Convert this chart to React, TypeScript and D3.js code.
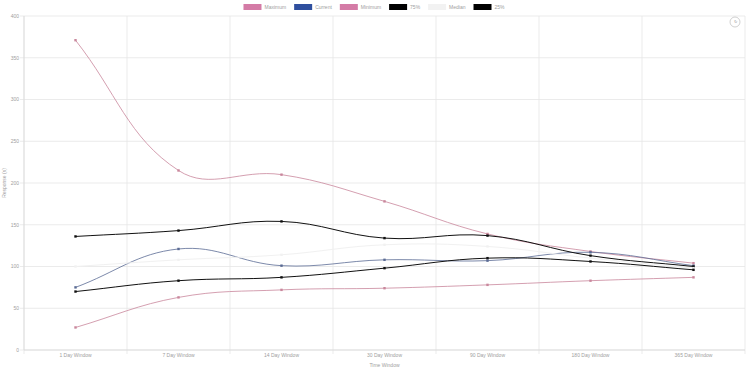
import React from 'react';
import * as d3 from 'd3';

const categories = ['1 Day Window', '7 Day Window', '14 Day Window', '30 Day Window', '90 Day Window', '180 Day Window', '365 Day Window'];
const maximum = [371, 215, 210, 178, 139, 118, 104];
const current = [75, 121, 101, 108, 107, 117, 101];
const minimum = [27, 63, 72, 74, 78, 83, 87];
const p75 = [136, 143, 154, 134, 137, 113, 100];
const median = [100, 108, 114, 126, 124, 110, 98];
const p25 = [70, 83, 87, 98, 110, 106, 96];
const yTicks = [0, 50, 100, 150, 200, 250, 300, 350, 400];

const series = [
  { name: 'Maximum', values: maximum, color: '#d47ba6', line: '#c9879c', width: 0.8 },
  { name: 'Current', values: current, color: '#2f4f9e', line: '#5a6b94', width: 0.8 },
  { name: 'Minimum', values: minimum, color: '#d47ba6', line: '#c9879c', width: 0.8 },
  { name: '75%', values: p75, color: '#000000', line: '#111111', width: 1 },
  { name: 'Median', values: median, color: '#f2f2f2', line: '#f1f1f1', width: 1 },
  { name: '25%', values: p25, color: '#000000', line: '#111111', width: 1 },
];

const W = 748;
const H = 372;
const margin = { top: 16, right: 3, bottom: 22, left: 24 };
const font = 'Liberation Sans, Arial, sans-serif';

// chart.js style bezier (tension 0.4)
function splinePath(pts: [number, number][], t = 0.4) {
  const cps = pts.map((p, i) => {
    const prev = pts[i - 1] || p;
    const next = pts[i + 1] || p;
    const d01 = Math.hypot(p[0] - prev[0], p[1] - prev[1]);
    const d12 = Math.hypot(next[0] - p[0], next[1] - p[1]);
    let s01 = d01 / (d01 + d12);
    let s12 = d12 / (d01 + d12);
    if (isNaN(s01)) s01 = 0;
    if (isNaN(s12)) s12 = 0;
    const fa = t * s01, fb = t * s12;
    return {
      prev: [p[0] - fa * (next[0] - prev[0]), p[1] - fa * (next[1] - prev[1])],
      next: [p[0] + fb * (next[0] - prev[0]), p[1] + fb * (next[1] - prev[1])],
    };
  });
  let d = `M${pts[0][0]},${pts[0][1]}`;
  for (let i = 1; i < pts.length; i++) {
    const a = cps[i - 1].next, b = cps[i].prev;
    d += `C${a[0]},${a[1]} ${b[0]},${b[1]} ${pts[i][0]},${pts[i][1]}`;
  }
  return d;
}

function textWidth(s: string, size: number) {
  const ctx = document.createElement('canvas').getContext('2d');
  if (!ctx) return s.length * size * 0.5;
  ctx.font = `${size}px ${font}`;
  return ctx.measureText(s).width;
}

const App: React.FC = () => {
  const x = d3.scaleBand<string>().domain(categories).range([margin.left, W - margin.right]);
  const y = d3.scaleLinear().domain([0, 400]).range([H - margin.bottom, margin.top]);
  const bw = x.bandwidth();
  const cx = (c: string) => (x(c) as number) + bw / 2;

  // legend layout
  const boxW = 18, boxH = 6, lgFont = 5, pad = 3, gap = 8;
  const items = series.map(s => ({ ...s, w: boxW + pad + textWidth(s.name, lgFont) }));
  const total = d3.sum(items, d => d.w) + gap * (items.length - 1);
  let lx = (W - total) / 2;
  const legend = items.map(it => {
    const pos = lx;
    lx += it.w + gap;
    return { ...it, x: pos };
  });

  const bottom = H - margin.bottom;
  const right = W - margin.right;

  return (
    <div style={{ position: 'fixed', left: 0, top: 0 }}>
      <svg width={W} height={H} style={{ display: 'block', background: '#fff' }} fontFamily={font}>
        {/* horizontal grid */}
        {yTicks.map(t => (
          <g key={t}>
            <line x1={margin.left - 4} x2={right} y1={y(t)} y2={y(t)} stroke="#e6e6e6" strokeWidth={0.8} />
            <text x={margin.left - 5} y={y(t)} dy="0.35em" textAnchor="end" fontSize={5} fill="#a0a0a0">{t}</text>
          </g>
        ))}
        {/* vertical grid at band edges */}
        {[...categories.map(c => x(c) as number), right].map((v, i) => (
          <line key={i} x1={v} x2={v} y1={margin.top} y2={bottom + 4} stroke="#e6e6e6" strokeWidth={0.8} />
        ))}
        <line x1={margin.left} x2={margin.left} y1={margin.top} y2={bottom} stroke="#d9d9d9" strokeWidth={0.8} />
        <line x1={margin.left} x2={right} y1={bottom} y2={bottom} stroke="#d9d9d9" strokeWidth={0.8} />
        {categories.map(c => (
          <text key={c} x={cx(c)} y={bottom + 7} textAnchor="middle" fontSize={5} fill="#a0a0a0">{c}</text>
        ))}
        <text x={(margin.left + right) / 2} y={H - 5} textAnchor="middle" fontSize={5} fill="#a0a0a0">Time Window</text>
        <text transform={`translate(6,${(margin.top + bottom) / 2}) rotate(-90)`} textAnchor="middle" fontSize={5} fill="#a0a0a0">Response (s)</text>

        {/* lines */}
        {series.map(s => {
          const pts = s.values.map((v, i) => [cx(categories[i]), y(v)] as [number, number]);
          return (
            <g key={s.name}>
              <path d={splinePath(pts)} fill="none" stroke={s.line} strokeWidth={s.width} />
              {pts.map((p, i) => (
                <rect key={i} x={p[0] - 1.2} y={p[1] - 1.2} width={2.4} height={2.4} fill={s.line} />
              ))}
            </g>
          );
        })}

        {/* legend */}
        {legend.map(it => (
          <g key={it.name}>
            <rect x={it.x} y={4} width={boxW} height={boxH} fill={it.color} />
            <text x={it.x + boxW + pad} y={7} dy="0.35em" fontSize={lgFont} fill="#a0a0a0">{it.name}</text>
          </g>
        ))}

        {/* top-right icon */}
        <g transform="translate(735,22)">
          <circle r={5} fill="#fff" stroke="#bbb" strokeWidth={0.7} />
          <text y={0} dy="0.35em" textAnchor="middle" fontSize={4} fill="#999">{'\u21BB'}</text>
        </g>
      </svg>
    </div>
  );
};

export default App;
